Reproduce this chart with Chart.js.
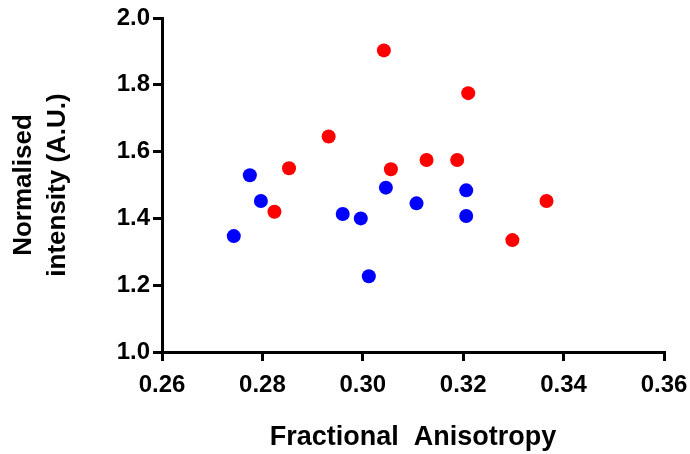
<!DOCTYPE html>
<html>
<head>
<meta charset="utf-8">
<title>Fractional Anisotropy vs Normalised intensity</title>
<script src="https://cdn.jsdelivr.net/npm/chart.js@4/dist/chart.umd.min.js"></script>
<style>
    html, body { margin: 0; padding: 0; background: #fff; }
    #wrap { width: 690px; height: 454px; }
</style>
</head>
<body>
<div id="wrap"><canvas id="chart_fa" width="690" height="454"></canvas></div>
<script>
// Group 1 (blue)
var blueFA = [0.2743, 0.2775, 0.2797, 0.2960, 0.2996, 0.3012, 0.3046, 0.3107, 0.3206, 0.3206];
var blueIntensity = [1.347, 1.529, 1.452, 1.413, 1.400, 1.227, 1.492, 1.445, 1.484, 1.407];

// Group 2 (red)
var redFA = [0.2824, 0.2853, 0.2932, 0.3042, 0.3056, 0.3127, 0.3188, 0.3210, 0.3298, 0.3366];
var redIntensity = [1.420, 1.550, 1.645, 1.903, 1.547, 1.575, 1.575, 1.775, 1.335, 1.452];

var xTicks = [0.26, 0.28, 0.30, 0.32, 0.34, 0.36];
var yTicks = [1.0, 1.2, 1.4, 1.6, 1.8, 2.0];

function toPoints(xs, ys) {
    var pts = [];
    for (var i = 0; i < xs.length; i++) {
        pts.push({ x: xs[i], y: ys[i] });
    }
    return pts;
}

function dotSet(label, color, xs, ys) {
    return {
        label: label,
        data: toPoints(xs, ys),
        backgroundColor: color,
        borderColor: color,
        borderWidth: 0,
        pointRadius: 7,
        pointHoverRadius: 7
    };
}

Chart.defaults.color = '#000';
Chart.defaults.font.family = '"Liberation Sans", Arial, sans-serif';

var axisLine = {
    display: true,
    color: '#000',
    width: 3
};

var tickGrid = {
    drawOnChartArea: false,
    drawTicks: true,
    tickLength: 9,
    lineWidth: 3,
    tickWidth: 3,
    color: '#000'
};

var chart = new Chart(document.getElementById('chart_fa'), {
    type: 'scatter',
    data: {
        datasets: [
            dotSet('Group 1', '#0000ff', blueFA, blueIntensity),
            dotSet('Group 2', '#ff0000', redFA, redIntensity)
        ]
    },
    options: {
        responsive: false,
        animation: false,
        layout: {
            padding: { left: 0, right: 26, top: 18, bottom: 0 }
        },
        plugins: {
            legend: { display: false },
            tooltip: { enabled: false }
        },
        scales: {
            x: {
                type: 'linear',
                min: xTicks[0],
                max: xTicks[xTicks.length - 1],
                border: axisLine,
                grid: tickGrid,
                afterBuildTicks: function (scale) {
                    scale.ticks = xTicks.map(function (v) { return { value: v }; });
                },
                afterFit: function (scale) {
                    // fixed box; edge labels may overhang into the padding
                    scale.height = 102;
                    scale.paddingLeft = 0;
                    scale.paddingRight = 0;
                },
                ticks: {
                    padding: 10,
                    maxRotation: 0,
                    font: { size: 24, weight: 'bold' },
                    callback: function (v) { return v.toFixed(2); }
                },
                title: {
                    display: true,
                    text: 'Fractional  Anisotropy',
                    font: { size: 27, weight: 'bold', lineHeight: 1.2 },
                    padding: { top: 0, bottom: 0 }
                }
            },
            y: {
                type: 'linear',
                min: yTicks[0],
                max: yTicks[yTicks.length - 1],
                border: axisLine,
                grid: tickGrid,
                afterBuildTicks: function (scale) {
                    scale.ticks = yTicks.map(function (v) { return { value: v }; });
                },
                afterFit: function (scale) {
                    scale.width = 162;
                    scale.paddingTop = 0;
                    scale.paddingBottom = 0;
                },
                ticks: {
                    padding: 3,
                    font: { size: 24, weight: 'bold' },
                    callback: function (v) { return v.toFixed(1); }
                },
                title: {
                    display: true,
                    text: ['Normalised', 'intensity (A.U.)'],
                    font: { size: 26, weight: 'bold', lineHeight: 1.3 },
                    padding: { top: 7, bottom: 0 }
                }
            }
        }
    }
});
</script>
</body>
</html>
